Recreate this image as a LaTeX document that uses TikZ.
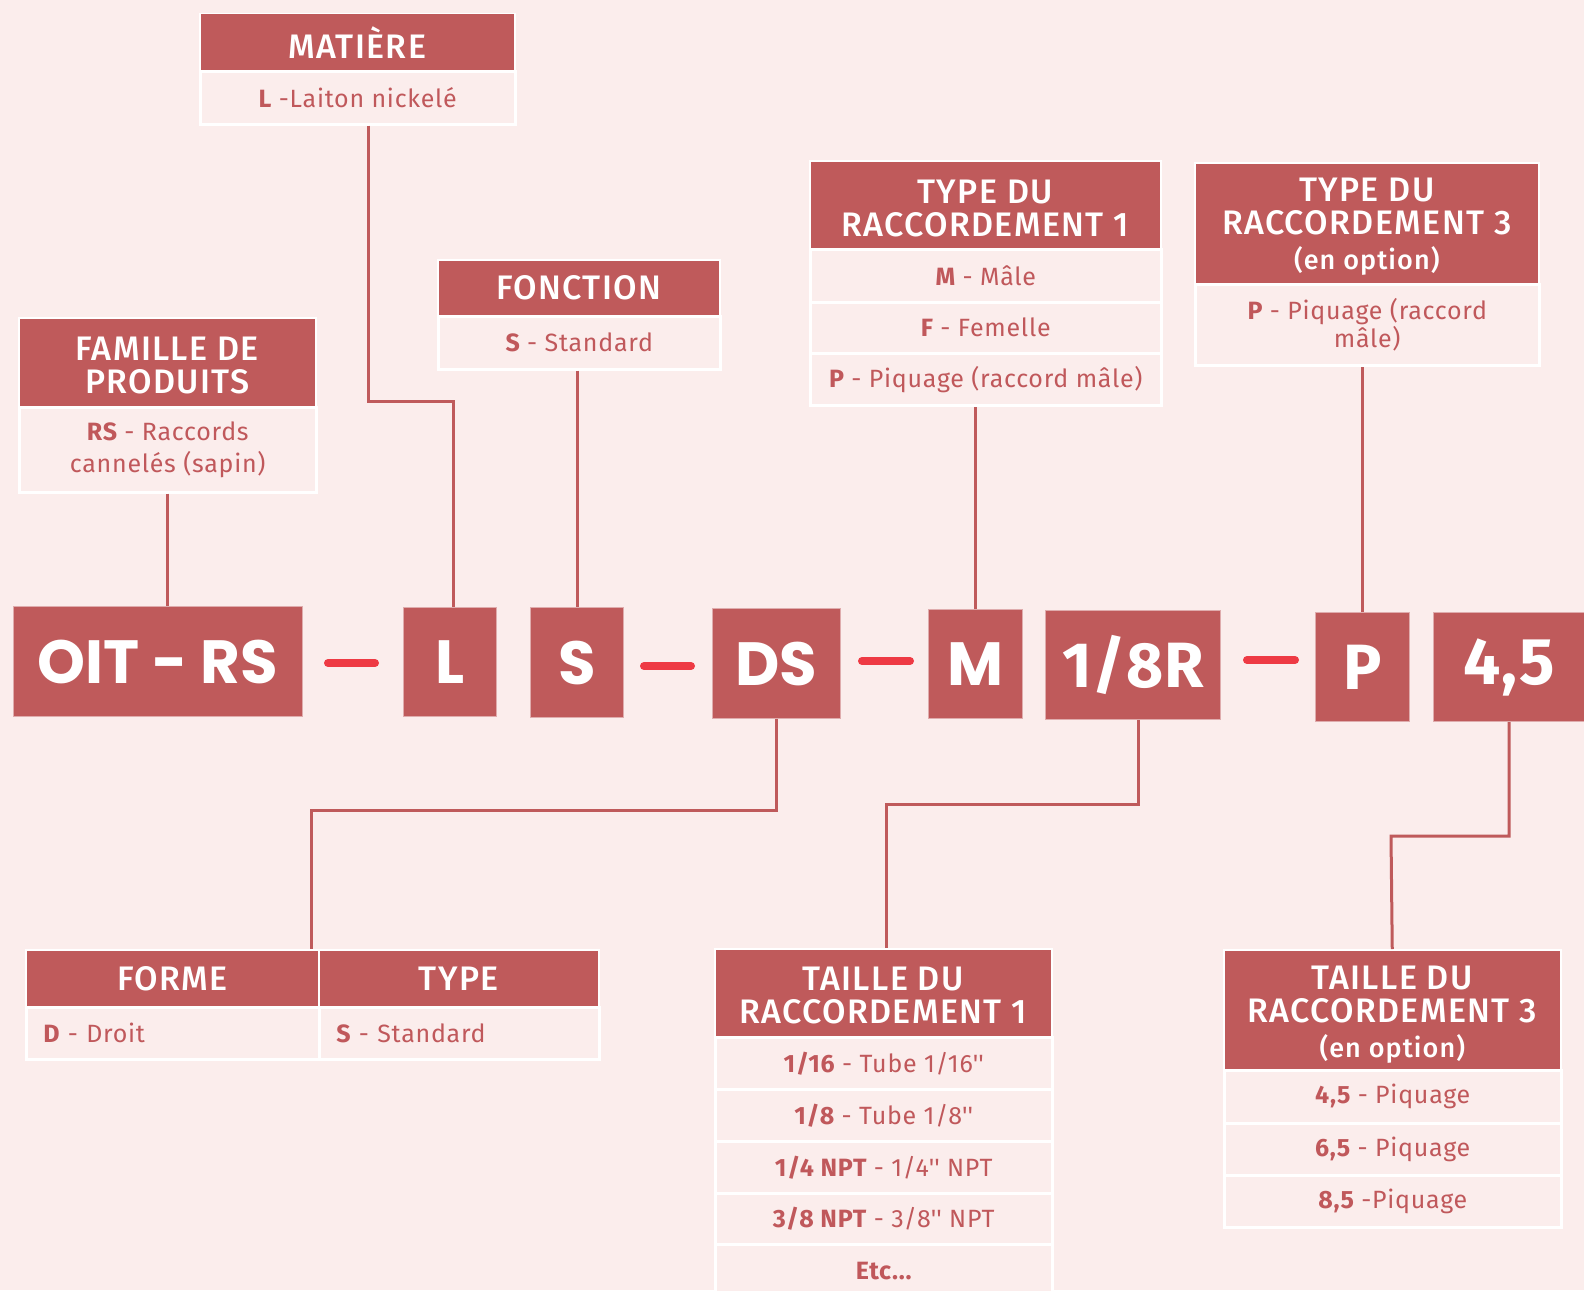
\documentclass[tikz,border=0pt]{standalone}
\usepackage{fontspec}
\setmainfont{Fira Sans}[LetterSpace=3]
\IfFontExistsTF{Fira Sans Medium}{\newfontfamily\hdfont{Fira Sans Medium}[LetterSpace=4]}{\newfontfamily\hdfont{Fira Sans}[LetterSpace=4]}
\IfFontExistsTF{Poppins}{\newfontfamily\geofont{Poppins}}{\newfontfamily\geofont{Fira Sans}}
\newfontfamily\humfont{Fira Sans}[LetterSpace=2]
\definecolor{bg}{HTML}{FBEDEC}
\definecolor{redbox}{HTML}{BF5A5B}
\definecolor{dashred}{HTML}{EE3A44}
\definecolor{txt}{HTML}{C0585B}
\newcommand{\qq}{\textquotesingle\textquotesingle}
\newcommand{\dn}{\rule{0pt}{31pt}}
\tikzset{
  hdr/.style={draw=white, line width=1.5pt, fill=redbox, text=white, anchor=north west, inner sep=0pt, align=center, font=\hdfont\fontsize{34}{33}\selectfont},
  rowbox/.style={draw=white, line width=2.5pt, fill=bg, text=txt, anchor=north west, inner sep=0pt, align=center, font=\fontsize{25}{31}\selectfont},
  codebox/.style={fill=redbox, draw=white!50!redbox, line width=1pt, text=white, anchor=north west, inner sep=0pt},
  geo/.style={font=\geofont\bfseries\fontsize{61}{61}\selectfont},
  hum/.style={font=\humfont\bfseries\fontsize{64}{64}\selectfont},
  conn/.style={draw=redbox, line width=3pt},
  dashmark/.style={draw=dashred, line width=8pt, line cap=round},
}
\begin{document}
\begin{tikzpicture}[x=1pt, y=-1pt]
\useasboundingbox (0,0) rectangle (1584,1290);
\clip (0,0) rectangle (1584,1290);
\fill[bg] (0,0) rectangle (1584,1290);

% ---- top boxes ----
\node[hdr, minimum width=315pt, minimum height=57pt] (math) at (199,13) {MATIÈRE};
\node[rowbox, minimum width=315pt, minimum height=53pt] (matb) at (199,70) {{\bfseries L} -Laiton nickelé};

\node[hdr, minimum width=297pt, minimum height=89pt] (famh) at (18,317) {\dn FAMILLE DE\\PRODUITS};
\node[rowbox, minimum width=297pt, minimum height=85pt, font=\fontsize{25}{32}\selectfont] (famb) at (18,406) {{\bfseries RS} - Raccords\\cannelés (sapin)};

\node[hdr, minimum width=282pt, minimum height=56pt] (fonh) at (437,259) {FONCTION};
\node[rowbox, minimum width=282pt, minimum height=53pt] (fonb) at (437,315) {{\bfseries S} - Standard};

\node[hdr, minimum width=351pt, minimum height=88pt] (t1h) at (809,160) {\dn TYPE DU\\RACCORDEMENT 1};
\node[rowbox, minimum width=351pt, minimum height=53pt] (t1r1) at (809,248) {{\bfseries M} - Mâle};
\node[rowbox, minimum width=351pt, minimum height=51pt] (t1r2) at (809,301) {{\bfseries F} - Femelle};
\node[rowbox, minimum width=351pt, minimum height=52pt] (t1r3) at (809,352) {{\bfseries P} - Piquage (raccord mâle)};

\node[hdr, minimum width=344pt, minimum height=121pt] (t3h) at (1194,162) {\dn TYPE DU\\RACCORDEMENT 3\\[2pt]{\fontsize{27}{33}\selectfont (en option)}};
\node[rowbox, minimum width=344pt, minimum height=81pt, font=\fontsize{25}{26}\selectfont] (t3b) at (1194,283) {{\bfseries P} - Piquage (raccord\\mâle)};

% ---- code boxes ----
\node[codebox, geo, minimum width=289pt, minimum height=110pt] (oit) at (13,606) {OIT - RS};
\node[codebox, geo, minimum width=93pt, minimum height=109pt] (lcode) at (403,607) {L};
\node[codebox, geo, minimum width=93pt, minimum height=110pt] (scode) at (530,607) {S};
\node[codebox, geo, minimum width=128pt, minimum height=110pt] (dscode) at (712,608) {DS};
\node[codebox, geo, minimum width=94pt, minimum height=109pt] (mcode) at (928,609) {M};
\node[codebox, hum, minimum width=175pt, minimum height=109pt] (rcode) at (1045,610) {1/8R};
\node[codebox, hum, minimum width=94pt, minimum height=109pt] (pcode) at (1315,612) {P};
\node[codebox, hum, font=\humfont\bfseries\fontsize{66}{66}\selectfont, minimum width=151pt, minimum height=109pt] (fcode) at (1433,612) {4,5};

\draw[dashmark] (328,663) -- (375,663);
\draw[dashmark] (644,666) -- (691,666);
\draw[dashmark] (862,661) -- (910,661);
\draw[dashmark] (1247,660) -- (1295,660);

% ---- bottom boxes ----
\node[hdr, minimum width=293pt, minimum height=57pt] (formh) at (25,949) {FORME};
\node[hdr, minimum width=280pt, minimum height=57pt] (typeh) at (318,949) {TYPE};
\node[rowbox, minimum width=293pt, minimum height=52pt, inner xsep=17pt, text width=259pt, align=left] (formb) at (25,1006) {{\bfseries D} - Droit};
\node[rowbox, minimum width=280pt, minimum height=52pt, inner xsep=17pt, text width=246pt, align=left] (typeb) at (318,1006) {{\bfseries S} - Standard};

\node[hdr, minimum width=337pt, minimum height=88pt] (ta1h) at (714,948) {\rule{0pt}{28pt}TAILLE DU\\RACCORDEMENT 1};
\node[rowbox, minimum width=337pt, minimum height=52pt] (ta1r1) at (714,1036) {{\bfseries 1/16} - Tube 1/16\qq};
\node[rowbox, minimum width=337pt, minimum height=52pt] (ta1r2) at (714,1088) {{\bfseries 1/8} - Tube 1/8\qq};
\node[rowbox, minimum width=337pt, minimum height=52pt] (ta1r3) at (714,1140) {{\bfseries 1/4 NPT} - 1/4\qq{} NPT};
\node[rowbox, minimum width=337pt, minimum height=51pt] (ta1r4) at (714,1192) {{\bfseries 3/8 NPT} - 3/8\qq{} NPT};
\node[rowbox, minimum width=337pt, minimum height=53pt] (ta1r5) at (714,1243) {{\bfseries Etc...}};

\node[hdr, minimum width=337pt, minimum height=120pt] (ta3h) at (1223,949) {\rule{0pt}{34pt}TAILLE DU\\RACCORDEMENT 3\\[2pt]{\fontsize{27}{33}\selectfont (en option)}};
\node[rowbox, minimum width=337pt, minimum height=53pt] (ta3r1) at (1223,1069) {{\bfseries 4,5} - Piquage};
\node[rowbox, minimum width=337pt, minimum height=52pt] (ta3r2) at (1223,1122) {{\bfseries 6,5} - Piquage};
\node[rowbox, minimum width=337pt, minimum height=52pt] (ta3r3) at (1223,1174) {{\bfseries 8,5} -Piquage};

% ---- connectors ----
\coordinate (m1) at (420,401);
\coordinate (c1) at (311,810);
\coordinate (c2) at (886,804);
\coordinate (c3) at (1391,836);
\draw[conn] (famb.south) -- (famb.south |- oit.north);
\draw[conn] ([xshift=11pt]matb.south) |- (m1) -| ([xshift=3pt]lcode.north);
\draw[conn] ([xshift=-2pt]fonb.south) -- ([xshift=-2pt]fonb.south |- scode.north);
\draw[conn] (mcode.north) -- (mcode.north |- t1r3.south);
\draw[conn] (pcode.north) -- (pcode.north |- t3b.south);
\draw[conn] (dscode.south) |- (c1) -- (c1 |- formh.north);
\draw[conn] ([xshift=5.5pt]rcode.south) |- (c2) -- (c2 |- ta1h.north);
\draw[conn] (fcode.south) |- (c3) -- (ta3h.north);
\end{tikzpicture}
\end{document}
